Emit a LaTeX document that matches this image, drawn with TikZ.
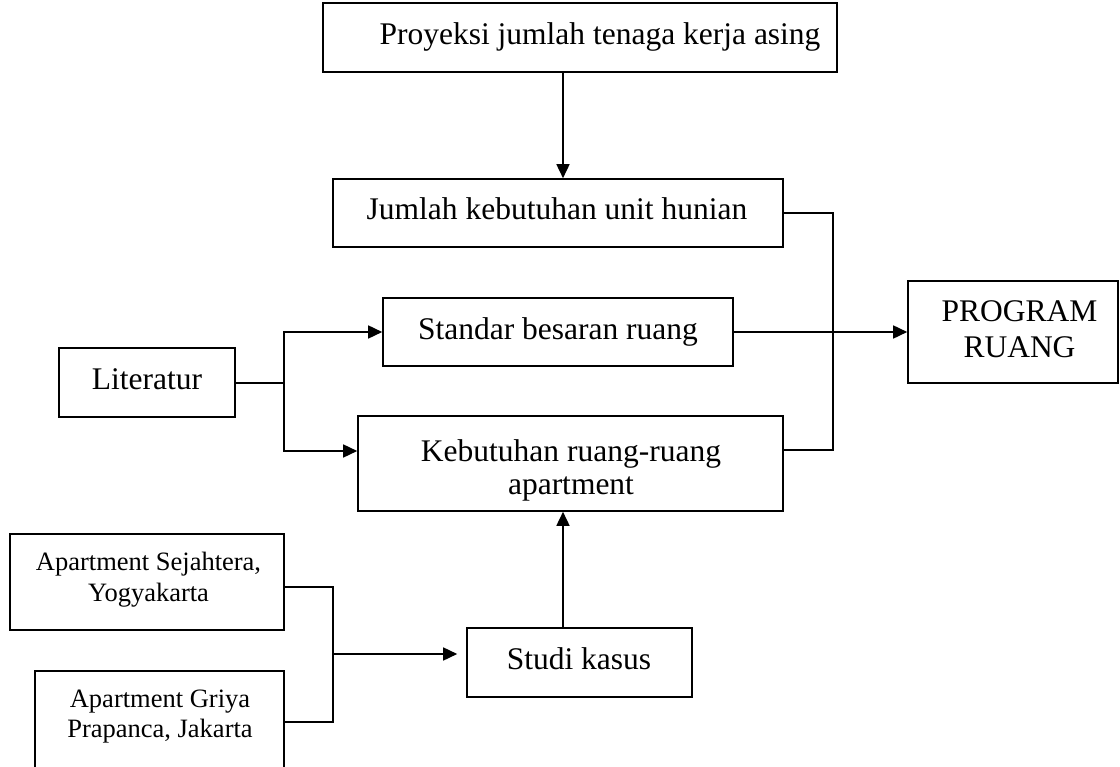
\documentclass[tikz,border=0pt]{standalone}
\usepackage{fontspec}
\setmainfont{Liberation Serif}
\usetikzlibrary{arrows.meta}
\newcommand{\twolines}[2]{\begin{tabular}[t]{@{}c@{}}#1\\#2\end{tabular}}
\tikzset{
  box/.style={draw=black, line width=1.6pt, rectangle, inner sep=0pt, fill=none},
  lbl/.style={inner sep=0pt, anchor=base, align=center},
  big/.style={font=\fontsize{31.5}{31.5}\selectfont},
  small/.style={font=\fontsize{26.5}{26.5}\selectfont},
  wire/.style={line width=1.6pt, draw=black},
  arr/.style={wire, -{Triangle[length=14pt,width=13pt]}}
}
\begin{document}
\begin{tikzpicture}[x=1pt,y=-1pt]
\path[use as bounding box, clip] (0,0) rectangle (1120,767);
% boxes
\node[box, minimum width=514pt, minimum height=69pt] (top) at (580,37.5) {};
\node[box, minimum width=450pt, minimum height=68pt] (jumlah) at (558,213) {};
\node[box, minimum width=350pt, minimum height=68pt] (standar) at (558,332) {};
\node[box, minimum width=425pt, minimum height=95pt] (keb) at (570.5,463.5) {};
\node[box, minimum width=210pt, minimum height=102pt] (prog) at (1013,332) {};
\node[box, minimum width=176pt, minimum height=69pt] (lit) at (147,382.5) {};
\node[box, minimum width=274pt, minimum height=96pt] (sej) at (147,582) {};
\node[box, minimum width=249pt, minimum height=110pt] (griya) at (159.5,726) {};
\node[box, minimum width=225pt, minimum height=69pt] (studi) at (579.5,662.5) {};
% texts
\node[lbl, big] (ttop) at (600,45) {Proyeksi jumlah tenaga kerja asing};
\node[lbl, big] (tjumlah) at (557,220) {Jumlah kebutuhan unit hunian};
\node[lbl, big] (tstandar) at (558,340) {Standar besaran ruang};
\node[lbl, font=\fontsize{31.5}{33}\selectfont] (tkeb) at (571,461) {\twolines{Kebutuhan ruang-ruang}{apartment}};
\node[lbl, font=\fontsize{31.5}{36}\selectfont] (tprog) at (1019.5,322) {\twolines{PROGRAM}{RUANG}};
\node[lbl, big] (tlit) at (147,390) {Literatur};
\node[lbl, big] (tstudi) at (579,669) {Studi kasus};
\node[lbl, font=\fontsize{26.5}{31}\selectfont] (tsej) at (148.5,570) {\twolines{Apartment Sejahtera,}{Yogyakarta}};
\node[lbl, font=\fontsize{26.5}{30}\selectfont] (tgri) at (160,707) {\twolines{Apartment Griya}{Prapanca, Jakarta}};
% helper coordinates
\coordinate (ax) at (563,0);
\coordinate (jr) at (833,213);
\coordinate (kr) at (833,450);
\coordinate (ljoin) at (284,383);
\coordinate (lup) at (284,332);
\coordinate (ldn) at (284,451);
\coordinate (sj) at (333,587);
\coordinate (gj) at (333,722);
\coordinate (mj) at (333,654);
% connectors
\draw[arr] (top.south -| ax) -- (jumlah.north -| ax);
\draw[wire] (jumlah.east |- jr) -- (jr) -- (kr) -- (keb.east |- kr);
\draw[arr] (standar.east) -- (prog.west);
\draw[wire] (lit.east |- ljoin) -- (ljoin);
\draw[arr] (ldn) -- (lup) -- (standar.west);
\draw[arr] (lup) -- (ldn) -- (keb.west |- ldn);
\draw[wire] (sej.east |- sj) -- (sj) -- (gj) -- (griya.east |- gj);
\draw[arr] (mj) -- ([xshift=-9pt]studi.west |- mj);
\draw[arr] (studi.north -| ax) -- (keb.south -| ax);
\end{tikzpicture}
\end{document}
